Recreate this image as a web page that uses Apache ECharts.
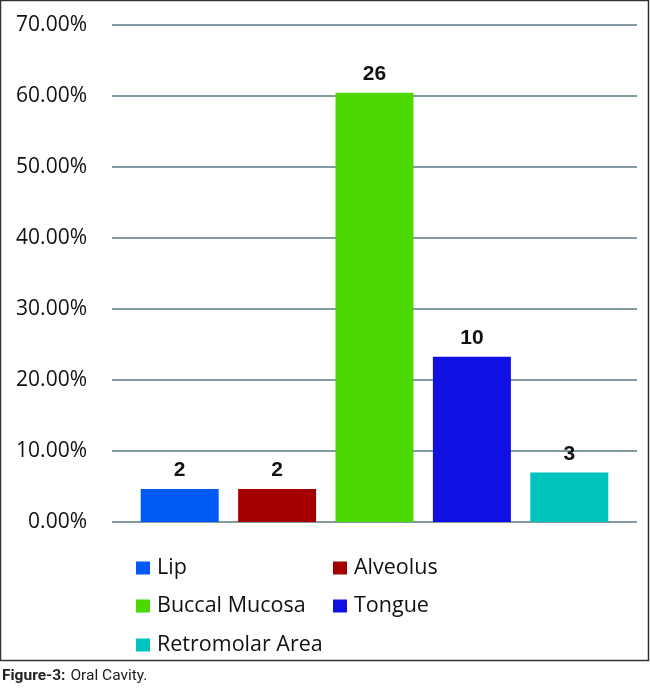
<!DOCTYPE html>
<html>
<head>
<meta charset="utf-8">
<script src="https://cdn.jsdelivr.net/npm/echarts@6/dist/echarts.min.js"></script>
<style>
  html, body { margin: 0; padding: 0; background: #fff; }
  #main { width: 650px; height: 692px; }
</style>
</head>
<body>
<div id="main"></div>
<script>
// 数据
var categories = ['Lip', 'Alveolus', 'Buccal Mucosa', 'Tongue', 'Retromolar Area'];
var counts = [2, 2, 26, 10, 3];
var percents = [0.0465, 0.0465, 0.6047, 0.2326, 0.0698];
var colors = ['#005af5', '#a50000', '#4cd800', '#1010e2', '#00c3bd'];
var yTicks = [0, 0.1, 0.2, 0.3, 0.4, 0.5, 0.6, 0.7];

var font = '"Open Sans", "Noto Sans", sans-serif';

// 每个部位一个系列，barGap -100% 让它们叠在同一位置
var series = [];
for (var i = 0; i < categories.length; i++) {
  var d = [];
  for (var j = 0; j < categories.length; j++) {
    d.push(j == i ? percents[i] : '-');
  }
  series.push({
    name: categories[i],
    type: 'bar',
    xAxisIndex: 1,
    yAxisIndex: 1,
    barWidth: 78,
    barGap: '-100%',
    itemStyle: { color: colors[i] },
    label: {
      show: true,
      position: 'top',
      distance: 8,
      formatter: (function (c) { return function () { return c; }; })(counts[i]),
      fontFamily: 'Liberation Sans, Arial, sans-serif',
      fontWeight: 'bold',
      fontSize: 21,
      color: '#111'
    },
    data: d
  });
}

// 图例位置（两列）
var legendPos = [[136, 557], [333, 557], [136, 595], [333, 595], [136, 634]];
var legends = [];
for (var k = 0; k < categories.length; k++) {
  legends.push({
    data: [categories[k]],
    left: legendPos[k][0],
    top: legendPos[k][1],
    icon: 'rect',
    itemWidth: 14,
    itemHeight: 13,
    itemGap: 0,
    padding: 0,
    selectedMode: false,
    textStyle: { fontFamily: font, fontSize: 21.5, color: '#111', padding: [0, 0, 0, 2] }
  });
}

var option = {
  animation: false,
  backgroundColor: '#fff',
  title: {
    left: 2,
    top: 667,
    padding: 0,
    text: '{b|Figure-3:} {r|Oral Cavity.}',
    textStyle: {
      fontWeight: 'normal',
      rich: {
        b: { fontFamily: 'Roboto, sans-serif', fontWeight: 'bold', fontSize: 15.5, color: '#222' },
        r: { fontFamily: 'Roboto, sans-serif', fontWeight: 'normal', fontSize: 15.5, color: '#222' }
      }
    }
  },
  legend: legends,
  graphic: [{
    type: 'rect',
    shape: { x: 0.5, y: 0.5, width: 648, height: 660 },
    style: { fill: 'none', stroke: '#333', lineWidth: 1.5 },
    silent: true
  }],
  grid: [
    { left: 112, right: 13, top: 25, bottom: 170 },
    { left: 131, right: 32, top: 25, bottom: 170 }
  ],
  xAxis: [
    { gridIndex: 0, type: 'value', show: false },
    { gridIndex: 1, type: 'category', data: categories, show: false }
  ],
  yAxis: [
    {
      gridIndex: 0,
      type: 'value',
      min: yTicks[0],
      max: yTicks[yTicks.length - 1],
      interval: 0.1,
      axisLine: { show: false },
      axisTick: { show: false },
      axisLabel: {
        margin: 25,
        fontFamily: font,
        fontSize: 21,
        color: '#111',
        formatter: function (v) { return (v * 100).toFixed(2) + '%'; }
      },
      splitLine: { lineStyle: { color: '#5a7a80', width: 1.5 } }
    },
    {
      gridIndex: 1,
      type: 'value',
      min: yTicks[0],
      max: yTicks[yTicks.length - 1],
      interval: 0.1,
      show: false,
      splitLine: { show: false }
    }
  ],
  series: series
};

var myChart = echarts.init(document.getElementById('main'));
myChart.setOption(option);
</script>
</body>
</html>
